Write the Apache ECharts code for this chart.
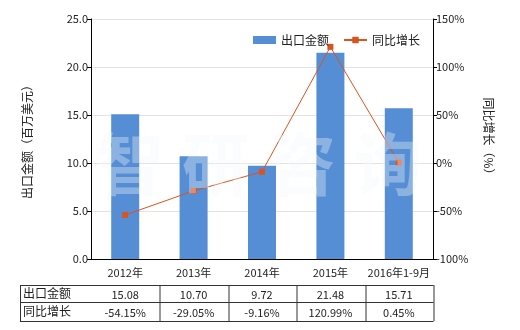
<!DOCTYPE html>
<html><head><meta charset="utf-8">
<script src="https://cdn.jsdelivr.net/npm/echarts@6/dist/echarts.min.js"></script>
<style>html,body{margin:0;padding:0;background:#fff}#c{width:520px;height:330px}</style>
</head><body><div id="c"></div>
<script>
const categories = ['2012年','2013年','2014年','2015年','2016年1-9月'];
const exportValues = [15.08, 10.70, 9.72, 21.48, 15.71];
const growthValues = [-54.15, -29.05, -9.16, 120.99, 0.45];
const exportLabels = ['15.08','10.70','9.72','21.48','15.71'];
const growthLabels = ['-54.15%','-29.05%','-9.16%','120.99%','0.45%'];
const seriesNames = ['出口金额','同比增长'];
const watermarkChars = ['智','研','咨','询'];

const FONT = '"Microsoft YaHei","Noto Sans CJK SC",sans-serif';
const chart = echarts.init(document.getElementById('c'), null, {renderer:'canvas'});
const axisCommon = {
  axisLine:{show:true,lineStyle:{color:'#000',width:1}},
  axisTick:{show:true,length:4,lineStyle:{color:'#000'}},
  axisLabel:{color:'#222',fontSize:11,fontFamily:FONT,margin:3},
  splitLine:{show:true,lineStyle:{color:'#e3e3e3',width:1}}
};
chart.setOption({
  animation:false,
  textStyle:{fontFamily:FONT},
  grid:{left:91,right:87,top:19,bottom:71},
  legend:{left:248,top:29,itemWidth:23,itemHeight:8,itemGap:14,
    textStyle:{fontSize:12,color:'#222',fontFamily:FONT},
    data:[{name:seriesNames[0],icon:'rect'},{name:seriesNames[1]}]},
  xAxis:{type:'category',data:categories,
    axisLine:{lineStyle:{color:'#000'}},axisTick:{show:false},
    axisLabel:{color:'#222',fontSize:11,fontFamily:FONT,margin:8,interval:0}},
  yAxis:[
    Object.assign({type:'value',min:0,max:25,interval:5,name:'出口金额（百万美元）',
      nameLocation:'middle',nameGap:58,nameTextStyle:{fontSize:12,color:'#222',fontFamily:FONT}},axisCommon,
      {axisLabel:Object.assign({},axisCommon.axisLabel,{formatter:v=>v.toFixed(1)})}),
    Object.assign({type:'value',min:-100,max:150,interval:50,name:'同比增长（%）',position:'right',
      nameLocation:'middle',nameGap:50,nameRotate:-90,nameTextStyle:{fontSize:12,color:'#222',fontFamily:FONT}},axisCommon,
      {axisLabel:Object.assign({},axisCommon.axisLabel,{formatter:v=>v+'%'}),splitLine:{show:false}})
  ],
  series:[
    {name:seriesNames[0],type:'bar',data:exportValues,barWidth:28,itemStyle:{color:'#558ED5'},z:2},
    {name:seriesNames[1],type:'line',yAxisIndex:1,data:growthValues,symbol:'rect',symbolSize:6,
      lineStyle:{color:'#D9541E',width:1},itemStyle:{color:'#D9541E'},z:3}
  ]
});

// table & watermark
const p0 = chart.convertToPixel({xAxisIndex:0},0);
const p1 = chart.convertToPixel({xAxisIndex:0},1);
const bw = p1 - p0;
const tableLeft = 20, r0 = 285, r1 = 302, r2 = 321;
const lineStyle = {stroke:'#333',lineWidth:1};
const els = [];
const xs = [tableLeft];
for (let i=0;i<categories.length;i++) xs.push(Math.round(chart.convertToPixel({xAxisIndex:0},i)+bw/2)+0.5);
const right = xs[xs.length-1];
[r0,r1,r2].forEach(y=>els.push({type:'line',shape:{x1:tableLeft,y1:y+0.5,x2:right,y2:y+0.5},style:lineStyle,silent:true}));
xs.forEach(x=>els.push({type:'line',shape:{x1:x+0.5,y1:r0,x2:x+0.5,y2:r2},style:lineStyle,silent:true}));
const ts = {fontSize:11,fill:'#222',fontFamily:FONT,textVerticalAlign:'middle'};
els.push({type:'text',style:Object.assign({},ts,{text:seriesNames[0],x:tableLeft+3,y:(r0+r1)/2,textAlign:'left',fontSize:12})});
els.push({type:'text',style:Object.assign({},ts,{text:seriesNames[1],x:tableLeft+3,y:(r1+r2)/2,textAlign:'left',fontSize:12})});
for (let i=0;i<categories.length;i++){
  const cx = chart.convertToPixel({xAxisIndex:0},i);
  els.push({type:'text',style:Object.assign({},ts,{text:exportLabels[i],x:cx,y:(r0+r1)/2+1,textAlign:'center'})});
  els.push({type:'text',style:Object.assign({},ts,{text:growthLabels[i],x:cx,y:(r1+r2)/2+1,textAlign:'center'})});
}
watermarkChars.forEach((ch,i)=>{
  els.push({type:'text',z:100,silent:true,style:{text:ch,x:96+i*86,y:130,font:'bold 68px "Noto Sans CJK SC"',
    fill:'rgba(244,246,250,0.35)'}});
});
chart.setOption({graphic:els});
</script></body></html>
